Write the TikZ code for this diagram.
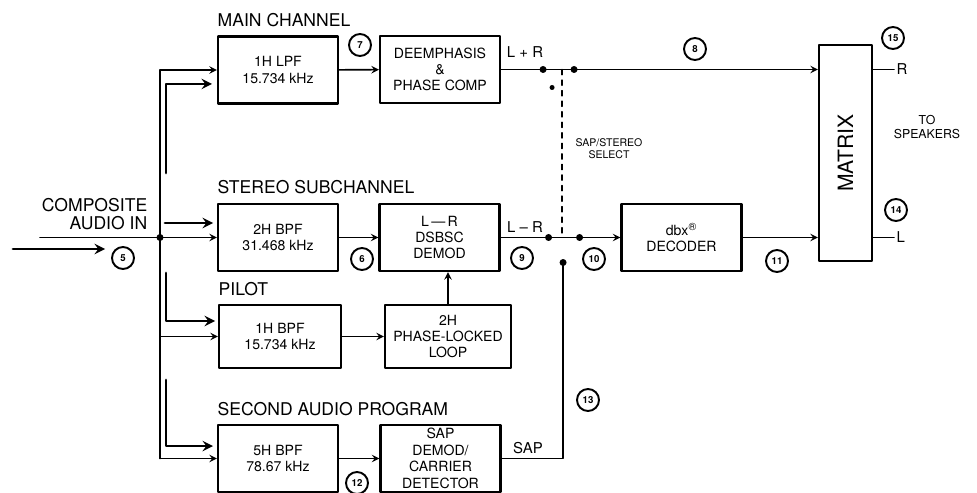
\documentclass[tikz,border=0pt]{standalone}
\usepackage{fontspec}
\setmainfont{TeX Gyre Heros}
\usetikzlibrary{positioning}
\begin{document}
\begin{tikzpicture}[x=0.2mm, y=-0.2mm, line join=round, line cap=round, >=stealth, line width=0.9pt]
	\tikzset{
		blk/.style={draw, line width=1.2pt, minimum width=24mm, minimum height=13.4mm, align=center, inner sep=1pt, font=\fontsize{8}{9.2}\selectfont},
		lab/.style={anchor=south west, inner sep=0pt, yshift=1.6mm, font=\fontsize{10}{11}\selectfont},
		num/.style={draw, circle, line width=1.1pt, minimum size=4.4mm, inner sep=0pt, font=\fontsize{5.5}{5.5}\selectfont\bfseries},
		sig/.style={inner sep=1pt, font=\fontsize{8.5}{9}\selectfont},
		flow/.style={->, line width=1.6pt}
	}
	\useasboundingbox (0,0) rectangle (977,493);
	% Các khối
	\node[blk] (lpf) at (278,70) {1H LPF\\15.734 kHz};
	\node[blk] (deem) at (440,69.5) {DEEMPHASIS\\\&\\PHASE COMP};
	\node[blk] (bpf) at (278,237.5) {2H BPF\\31.468 kHz};
	\node[blk] (dsb) at (439.5,237.5) {L\,---\,R\\DSBSC\\DEMOD};
	\node[blk] (dbx) at (681.5,237.5) {dbx\textsuperscript{®}\\DECODER};
	\node[blk, minimum width=10.6mm, minimum height=43.2mm, font=\fontsize{12}{12}\selectfont] (mtx) at (845.5,153) {\rotatebox{90}{MATRIX}};
	\node[blk, minimum width=24.4mm, minimum height=12.6mm] (pil) at (280,336.5) {1H BPF\\15.734 kHz};
	\node[blk, minimum width=25.2mm, minimum height=12.6mm] (pll) at (448,336.5) {2H\\PHASE-LOCKED\\LOOP};
	\node[blk] (sbpf) at (278,458.5) {5H BPF\\78.67 kHz};
	\node[blk, font=\fontsize{8}{9.4}\selectfont] (sdem) at (440.5,458.5) {SAP\\DEMOD/\\CARRIER\\DETECTOR};
	% Tên các kênh
	\node[lab] (tmain) at (lpf.north west) {MAIN CHANNEL};
	\node[lab] (tster) at (bpf.north west) {STEREO SUBCHANNEL};
	\node[lab, yshift=-0.2mm] (tpil) at (pil.north west) {PILOT};
	\node[lab, yshift=-0.2mm] (tsap) at (sbpf.north west) {SECOND AUDIO PROGRAM};
	\node[anchor=south east, inner sep=0pt, align=right, font=\fontsize{10}{10.6}\selectfont] (tin) at (148,231) {COMPOSITE\\AUDIO IN};
	% Thanh góp đầu vào
	\path (160,70)coordinate (bt) (160,237.5)coordinate (bj) (160,336.5)coordinate (bp) (160,458.5)coordinate (bb) (40,237.5)coordinate (inL);
	\draw (bt) -- (bb);
	\draw[->] (bt) -- (lpf.west);
	\draw[->] (inL) -- (bj) -- (bpf.west);
	\fill (bj) circle (0.7mm);
	\draw[->] (bp) -- (pil.west);
	\draw[->] (bb) -- (sbpf.west);
	% Mũi tên chỉ hướng tín hiệu
	\path (166,173)coordinate (f1) (212,84)coordinate (f1e) (165,223)coordinate (f2) (213,223)coordinate (f2e)
		(166,273)coordinate (f3) (215,321)coordinate (f3e) (166,380)coordinate (f4) (213,446)coordinate (f4e)
		(13,249)coordinate (f5) (105,249)coordinate (f5e);
	\draw[flow] (f1) |- (f1e);
	\draw[flow] (f2) -- (f2e);
	\draw[flow] (f3) |- (f3e);
	\draw[flow] (f4) |- (f4e);
	\draw[flow] (f5) -- (f5e);
	% Kênh chính và kênh phụ
	\draw[->] (lpf) -- (deem);
	\draw[->] (deem.east) -- (mtx.west |- deem.east);
	\draw[->] (bpf) -- (dsb);
	\draw[->] (dsb) -- (dbx);
	\draw[->] (dbx) -- (mtx.west |- dbx.east);
	\draw[->] (pil) -- (pll);
	\draw[->] (pll.north) -- (pll.north |- dsb.south);
	\draw[->] (sbpf) -- (sdem);
	% Công tắc SAP/STEREO
	\path (deem.east) ++(42,0)coordinate (s1) ++(31,0)coordinate (s2);
	\path (s1) ++(9,18)coordinate (s0) (s1) ++(19,0)coordinate (d1);
	\path (dsb.east) ++(48,0)coordinate (t1) ++(31,0)coordinate (t2);
	\path (d1 |- dsb.east) ++(1,25)coordinate (t3);
	\draw[dashed, line width=0.8pt] (d1) -- (d1 |- dsb.east);
	\draw (sdem.east) -| (t3);
	\foreach \p in {s1,s2,t1,t2,t3} \fill (\p) circle (0.7mm);
	\fill (s0) circle (0.5mm);
	% Đầu ra
	\draw (mtx.east |- deem.east) -- ++(21,0) node[right, sig] (oR) {R};
	\draw (mtx.east |- dbx.east) -- ++(21,0) node[right, sig] (oL) {L};
	% Nhãn tín hiệu
	\node[sig] (tlr) at (525,52) {L + R};
	\node[sig] (tlm) at (525,227) {L -- R};
	\node[sig] (tsp) at (528,448) {SAP};
	\node[align=center, inner sep=0pt, font=\fontsize{6}{7}\selectfont] (tsel) at (609,149) {SAP/STEREO\\SELECT};
	\node[align=center, inner sep=0pt, font=\fontsize{7}{8}\selectfont] (tspk) at (927,127) {TO\\SPEAKERS};
	% Các điểm đo
	\node[num] (n5) at (123,258) {5};
	\node[num] (n6) at (362,259) {6};
	\node[num] (n7) at (360,45) {7};
	\node[num] (n8) at (695,49) {8};
	\node[num] (n9) at (522,258) {9};
	\node[num] (n10) at (594,259) {10};
	\node[num] (n11) at (777,261) {11};
	\node[num] (n12) at (357,483) {12};
	\node[num] (n13) at (588,400) {13};
	\node[num] (n14) at (896,210) {14};
	\node[num] (n15) at (893,38) {15};
\end{tikzpicture}
\end{document}
